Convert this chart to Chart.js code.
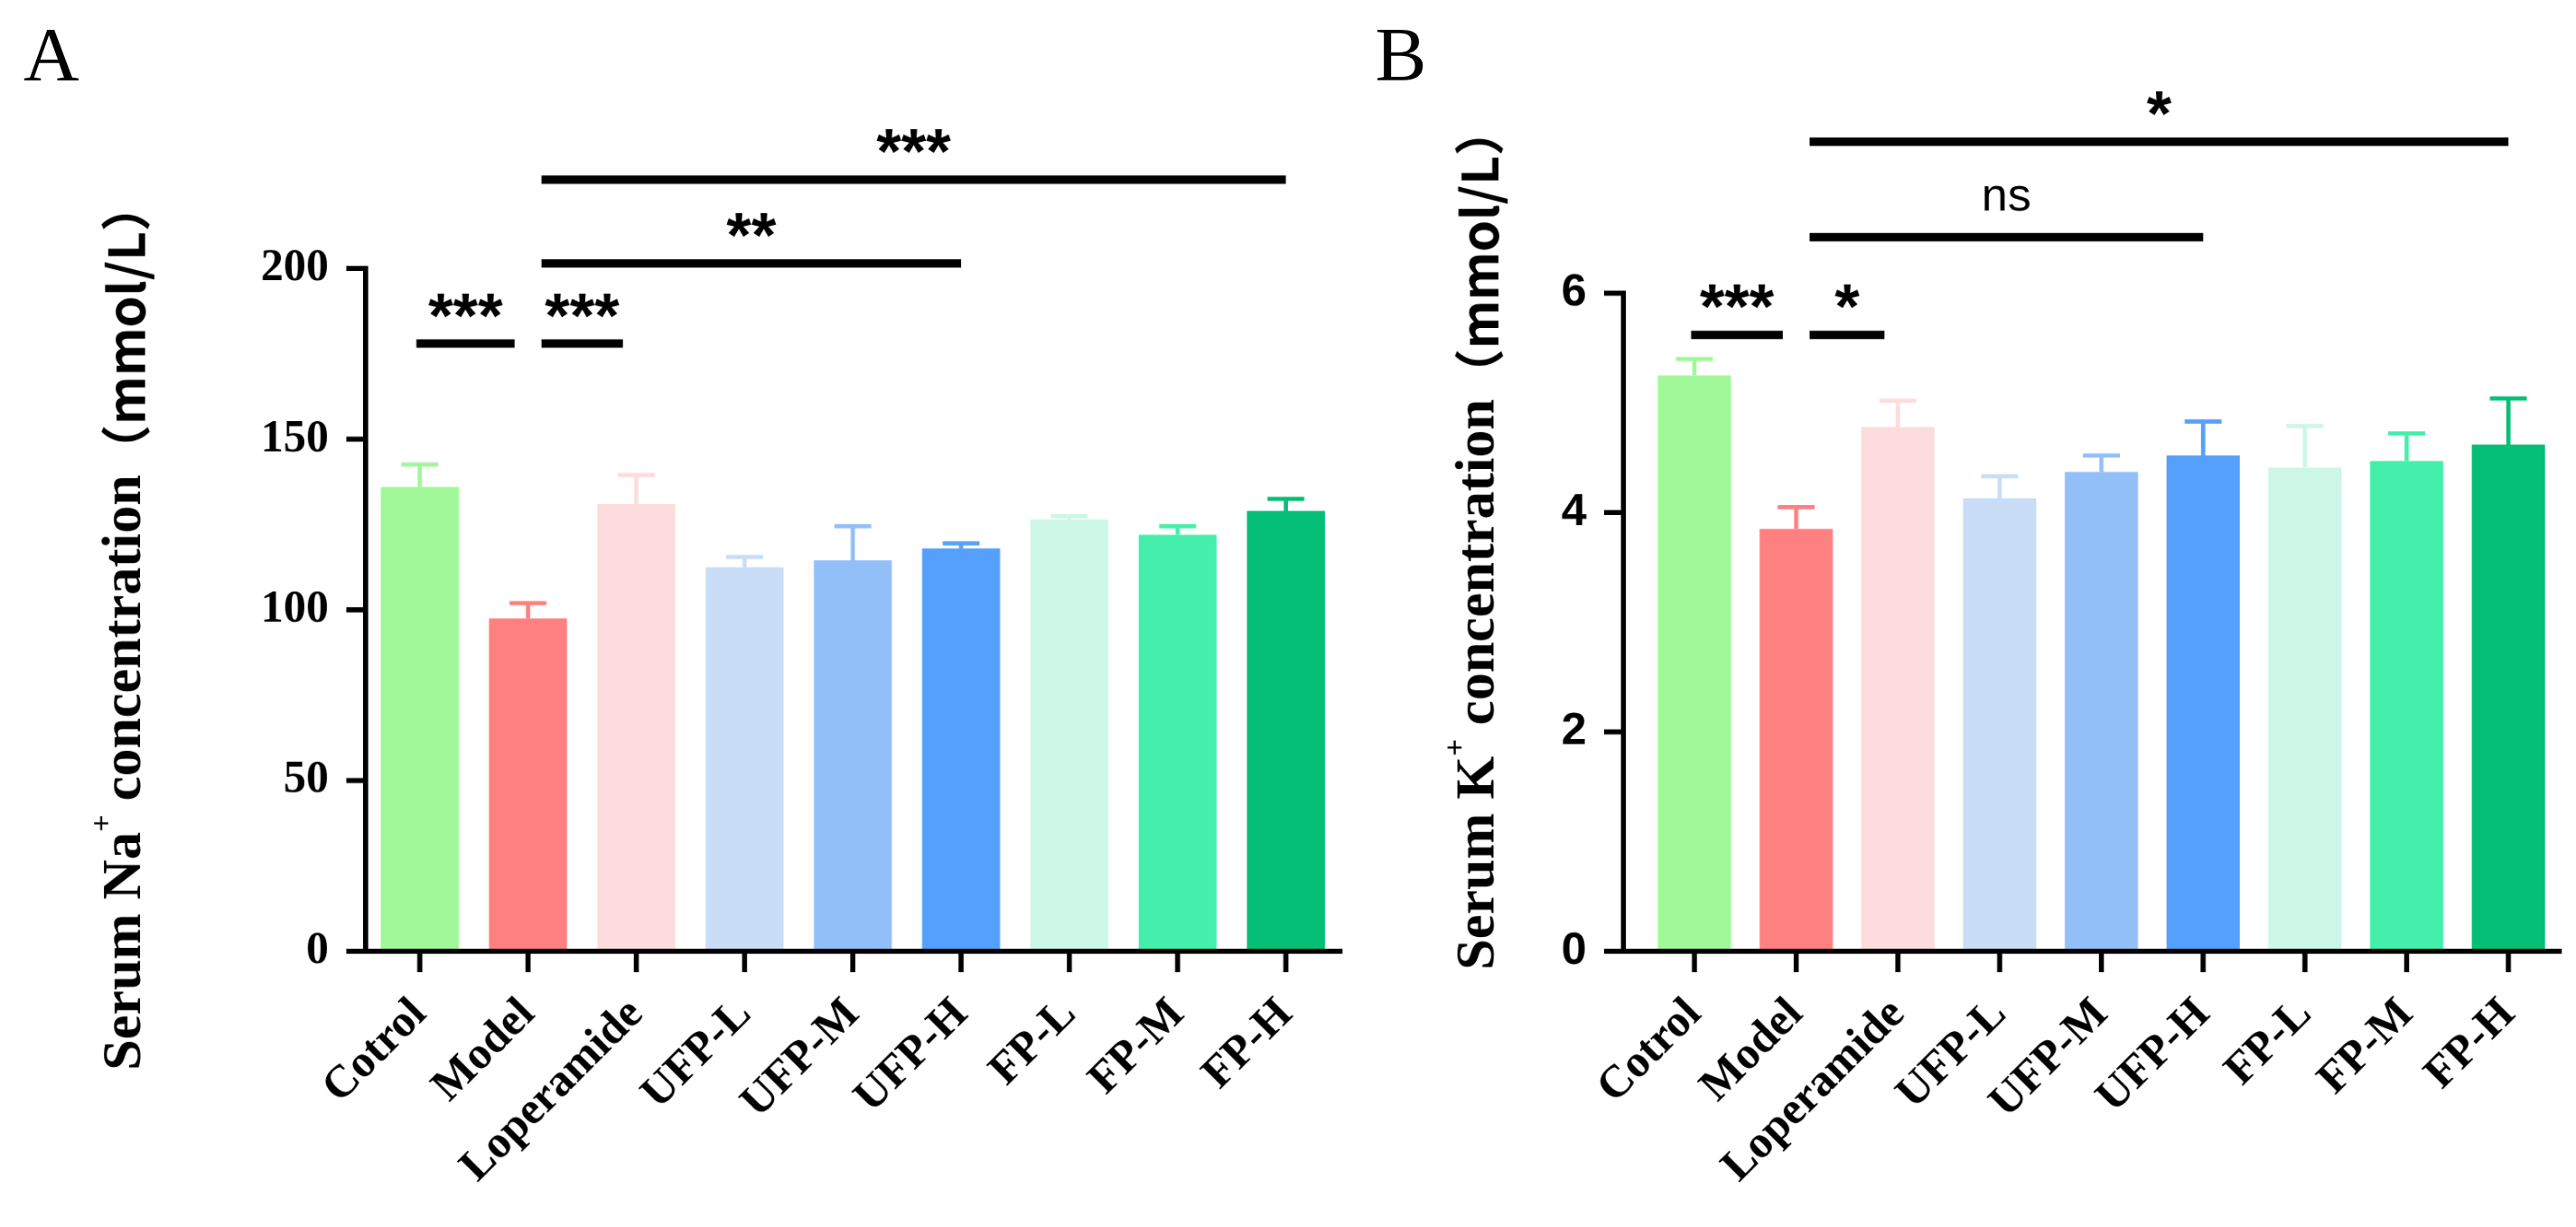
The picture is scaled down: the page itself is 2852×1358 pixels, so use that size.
<!DOCTYPE html>
<html>
<head>
<meta charset="utf-8">
<script src="https://cdn.jsdelivr.net/npm/chart.js@4"></script>
<style>
  html, body { margin: 0; padding: 0; background: #fff; overflow: hidden; }
  #frame { position: absolute; left: 0; top: 0; width: 1536px; height: 731px; transform-origin: 0 0; }
  .panel { position: absolute; top: 0; }
  .letter { position: absolute; font: 46px "Liberation Serif", serif; color: #000; }
</style>
</head>
<body>
<div id="frame">
  <div class="letter" style="left:14px;top:6px">A</div>
  <div class="letter" style="left:820px;top:6px">B</div>
  <div class="panel" style="left:0;width:820px;height:731px"><canvas id="chartA"></canvas></div>
  <div class="panel" style="left:830px;width:706px;height:731px"><canvas id="chartB"></canvas></div>
</div>
<script>
const groups = ['Cotrol', 'Model', 'Loperamide', 'UFP-L', 'UFP-M', 'UFP-H', 'FP-L', 'FP-M', 'FP-H'];
const barColors = ['#A0F898', '#FF8080', '#FDDCDD', '#C9DDF7', '#93BFF8', '#55A0FB', '#CCF7E6', '#44EFAB', '#06BF77'];

const naMean = [136, 97.5, 131, 112.5, 114.5, 118, 126.5, 122, 129];
const naErr  = [142.6, 102, 139.5, 115.5, 124.5, 119.5, 127.5, 124.5, 132.5];
const naTicks = [0, 50, 100, 150, 200];
const naSig = [
  { from: 0, to: 1, y: 178, label: '***' },
  { from: 1, to: 2, y: 178, label: '***' },
  { from: 1, to: 5, y: 201.5, label: '**' },
  { from: 1, to: 8, y: 226, label: '***' }
];

const kMean = [5.25, 3.85, 4.78, 4.13, 4.37, 4.52, 4.41, 4.47, 4.62];
const kErr  = [5.4, 4.05, 5.02, 4.33, 4.52, 4.83, 4.79, 4.72, 5.04];
const kTicks = [0, 2, 4, 6];
const kSig = [
  { from: 0, to: 1, y: 5.62, label: '***' },
  { from: 1, to: 2, y: 5.62, label: '*' },
  { from: 1, to: 5, y: 6.51, label: 'ns' },
  { from: 1, to: 8, y: 7.38, label: '*' }
];

const S = 2852 / 1536;
document.getElementById('frame').style.transform = 'scale(' + S + ')';

// axes, error bars, significance lines and axis title
function decor(opts) {
  return {
    id: 'decor',
    afterDatasetsDraw(chart) {
      const ctx = chart.ctx, x = chart.scales.x, y = chart.scales.y;
      const area = chart.chartArea;
      const ax = area.left - opts.gap;
      const y0 = y.getPixelForValue(0);
      const yTop = y.getPixelForValue(opts.ticks[opts.ticks.length - 1]);
      ctx.save();
      // error bars
      opts.mean.forEach((m, i) => {
        const cx = x.getPixelForValue(i);
        const yt = y.getPixelForValue(m), ye = y.getPixelForValue(opts.err[i]);
        ctx.strokeStyle = barColors[i];
        ctx.lineWidth = 2.5;
        ctx.beginPath();
        ctx.moveTo(cx, yt); ctx.lineTo(cx, ye);
        ctx.moveTo(cx - 11, ye); ctx.lineTo(cx + 11, ye);
        ctx.stroke();
      });
      // axes
      ctx.strokeStyle = '#000';
      ctx.lineWidth = 3;
      ctx.lineCap = 'square';
      ctx.beginPath();
      ctx.moveTo(ax, yTop); ctx.lineTo(ax, y0); ctx.lineTo(area.right, y0);
      opts.ticks.forEach(t => {
        const ty = y.getPixelForValue(t);
        ctx.moveTo(ax - 10, ty); ctx.lineTo(ax, ty);
      });
      groups.forEach((g, i) => {
        const cx = x.getPixelForValue(i);
        ctx.moveTo(cx, y0); ctx.lineTo(cx, y0 + 11);
      });
      ctx.stroke();
      // significance
      ctx.lineCap = 'butt';
      ctx.lineWidth = 5;
      ctx.fillStyle = '#000';
      ctx.textAlign = 'center';
      ctx.textBaseline = 'alphabetic';
      opts.sig.forEach(s => {
        const x1 = x.getPixelForValue(s.from) + (s.from === 0 ? -2 : 8);
        const x2 = x.getPixelForValue(s.to) + (s.to - s.from === 1 ? -8 : 0);
        const sy = y.getPixelForValue(s.y);
        ctx.beginPath(); ctx.moveTo(x1, sy); ctx.lineTo(x2, sy); ctx.stroke();
        ctx.font = s.label === 'ns' ? '28px "Liberation Sans", sans-serif' : 'bold 38px "Liberation Sans", sans-serif';
        ctx.fillText(s.label, (x1 + x2) / 2, sy - (s.label === 'ns' ? 16 : 4));
      });
      // y title with superscript
      ctx.translate(area.left + opts.titleX, (area.top + y0) / 2 + opts.titleShift);
      ctx.rotate(-Math.PI / 2);
      const parts = [
        ['Serum ' + opts.ion, 'bold 33px "Liberation Serif", serif', 0],
        ['+', 'bold 18px "Liberation Serif", serif', -13],
        [' concentration', 'bold 33px "Liberation Serif", serif', 0],
        ['（mmol/L）', 'bold 30px "Noto Sans CJK SC", sans-serif', 0]
      ];
      let total = 0;
      parts.forEach(p => { ctx.font = p[1]; total += ctx.measureText(p[0]).width; });
      let px = -total / 2;
      ctx.textAlign = 'left';
      ctx.textBaseline = 'middle';
      parts.forEach(p => {
        ctx.font = p[1];
        ctx.fillText(p[0], px, p[2]);
        px += ctx.measureText(p[0]).width;
      });
      ctx.restore();
    }
  };
}

function makeChart(id, o) {
  return new Chart(document.getElementById(id), {
    type: 'bar',
    data: {
      labels: groups,
      datasets: [{ data: o.mean, backgroundColor: barColors, barPercentage: 0.72, categoryPercentage: 1 }]
    },
    options: {
      responsive: true,
      maintainAspectRatio: false,
      animation: false,
      devicePixelRatio: 2,
      layout: { padding: { top: o.padTop, right: o.padRight, left: 0, bottom: 0 } },
      plugins: { legend: { display: false }, tooltip: { enabled: false } },
      scales: {
        x: {
          grid: { display: false },
          border: { display: false },
          ticks: {
            color: '#000', font: { family: '"Liberation Serif", serif', weight: 'bold', size: 27 },
            minRotation: 45, maxRotation: 45, padding: 14
          },
          afterFit: s => { s.height = 164; }
        },
        y: {
          min: 0, max: o.max,
          grid: { display: false },
          border: { display: false },
          afterBuildTicks: s => { s.ticks = o.ticks.map(v => ({ value: v })); },
          ticks: {
            color: '#000', padding: 14 + o.gap,
            font: { family: o.tickFont, weight: 'bold', size: 27 }
          },
          afterFit: s => { s.width = o.yWidth; }
        }
      }
    },
    plugins: [decor(o)]
  });
}

makeChart('chartA', {
  mean: naMean, err: naErr, ticks: naTicks, sig: naSig, ion: 'Na', max: 230,
  padTop: 99, padRight: 21, yWidth: 218, gap: 0, titleX: -143, titleShift: 40,
  tickFont: '"Liberation Serif", serif'
});
makeChart('chartB', {
  mean: kMean, err: kErr, ticks: kTicks, sig: kSig, ion: 'K', max: 8,
  padTop: 44, padRight: 10, yWidth: 150, gap: 12, titleX: -98, titleShift: 15,
  tickFont: '"Liberation Sans", sans-serif'
});
</script>
</body>
</html>
